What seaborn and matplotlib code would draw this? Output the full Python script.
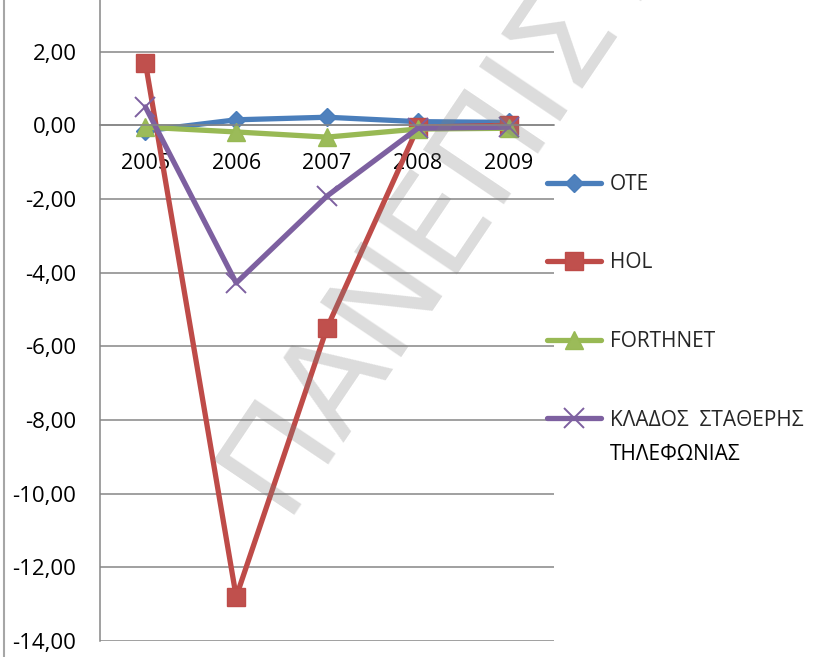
import numpy as np
import pandas as pd
import matplotlib
matplotlib.use("Agg")
import matplotlib.pyplot as plt
import seaborn as sns
from matplotlib.ticker import FuncFormatter, FixedLocator
from matplotlib.lines import Line2D

# ---- data ----
years = ["2005", "2006", "2007", "2008", "2009"]
ote = [-0.15, 0.15, 0.22, 0.10, 0.08]
hol = [1.70, -12.80, -5.50, -0.05, 0.00]
forthnet = [-0.05, -0.18, -0.32, -0.10, -0.08]
klados = [0.50, -4.28, -1.92, -0.08, -0.05]
series_names = ["OTE", "HOL", "FORTHNET", "ΚΛΑΔΟΣ  ΣΤΑΘΕΡΗΣ"]
last_label_line2 = "ΤΗΛΕΦΩΝΙΑΣ"
y_ticks = [2, 0, -2, -4, -6, -8, -10, -12, -14]
watermark = "ΠΑΝΕΠΙΣΤΗΜΙΟ"

sns.set_theme(style="white")
plt.rcParams["font.family"] = ["Open Sans", "DejaVu Sans"]

W, H = 816, 657
fig = plt.figure(figsize=(W / 100, H / 100), dpi=100)
# axes: left x=100px, right x=554px, y=-14 at 641px, y=4 at -22px
ax = fig.add_axes([100 / W, 16 / H, 454 / W, (679 - 16) / H])

pos = np.arange(len(years))
styles = [
    dict(color="#4A7EBB", marker="D", markersize=9, mec="#4A7EBB", mfc="#4F81BD", mew=1),
    dict(color="#BE4B48", marker="s", markersize=13, mec="#BE4B48", mfc="#C0504D", mew=1),
    dict(color="#98B954", marker="^", markersize=13, mec="#98B954", mfc="#9BBB59", mew=1),
    dict(color="#7D60A0", marker="x", markersize=14, mec="#7D60A0", mfc="#7D60A0", mew=1.4),
]
for vals, name, st in zip([ote, hol, forthnet, klados], series_names, styles):
    sns.lineplot(x=pos, y=vals, ax=ax, label=name, linewidth=3.8, legend=False, **st)

ax.set_xlim(-0.5, len(years) - 0.5)
ax.set_ylim(-14, 4)
ax.yaxis.set_major_locator(FixedLocator(y_ticks))
ax.yaxis.set_major_formatter(FuncFormatter(lambda v, p: f"{v:.2f}".replace(".", ",")))
ax.set_xticks(pos)
ax.set_xticklabels(years)
ax.grid(axis="y", color="#868686", linewidth=1.1)
ax.grid(axis="x", visible=False)
ax.set_axisbelow(True)

for s in ["top", "right"]:
    ax.spines[s].set_visible(False)
ax.spines["left"].set_color("#868686")
ax.spines["left"].set_linewidth(1.1)
ax.spines["bottom"].set_position(("data", 0))
ax.spines["bottom"].set_color("#868686")
ax.spines["bottom"].set_linewidth(1.1)

ax.tick_params(axis="y", length=0, pad=17, labelsize=16, colors="black")
ax.tick_params(axis="x", length=0, pad=20, labelsize=15.5, colors="black")
ax.set_xlabel("")
ax.set_ylabel("")

leg = ax.legend(
    loc="upper left",
    bbox_to_anchor=(547 / W, 1 - 174 / H),
    bbox_transform=fig.transFigure,
    frameon=False,
    fontsize=15,
    handlelength=2.6,
    handletextpad=0.4,
    labelspacing=2.76,
    borderpad=0,
    borderaxespad=0,
)

# second line of the last legend label, directly under the first line
fig.canvas.draw()
bb = leg.get_texts()[-1].get_window_extent()
fig.text(bb.x0 / W, (bb.y0 + bb.y1) / 2 / H - 35 / H, last_label_line2,
         ha="left", va="center", fontsize=15, color="black")

# chart-area border at the left
fig.add_artist(Line2D([4 / W, 4 / W], [0, 1], transform=fig.transFigure,
                      color="#a6a6a6", linewidth=1.5))

# watermark
fig.text(282 / W, 1 - 515 / H, watermark, rotation=56, rotation_mode="anchor",
         ha="left", va="baseline", fontsize=96, color="#808080", alpha=0.28,
         family="DejaVu Sans", zorder=10)

fig.savefig("out.png", dpi=100)
